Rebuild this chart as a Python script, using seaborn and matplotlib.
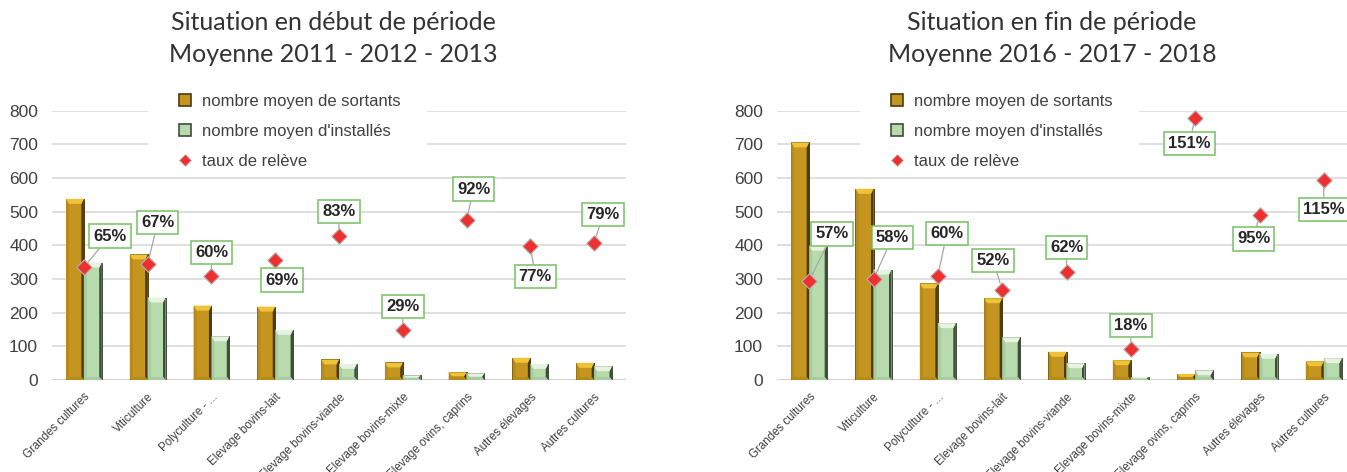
import numpy as np
import pandas as pd
import matplotlib
matplotlib.use("Agg")
import matplotlib.pyplot as plt
from matplotlib.lines import Line2D
from matplotlib.patches import Rectangle, Polygon
import seaborn as sns

# ---------------- data ----------------
categories = ["Grandes cultures", "Viticulture", "Polyculture - ...", "Elevage bovins-lait",
              "Elevage bovins-viande", "Elevage bovins-mixte", "Elevage ovins, caprins",
              "Autres élevages", "Autres cultures"]
series_names = ["nombre moyen de sortants", "nombre moyen d'installés", "taux de relève"]

titles = ["Situation en début de période\nMoyenne 2011 - 2012 - 2013",
          "Situation en fin de période\nMoyenne 2016 - 2017 - 2018"]

sortants_debut = [538, 373, 221, 218, 61, 52, 23, 66, 51]
installes_debut = [349, 245, 130, 149, 48, 14, 20, 48, 41]
taux_debut = [65, 67, 60, 69, 83, 29, 92, 77, 79]

sortants_fin = [706, 568, 287, 243, 84, 59, 18, 82, 56]
installes_fin = [399, 328, 169, 127, 50, 9, 29, 78, 65]
taux_fin = [57, 58, 60, 52, 62, 18, 151, 95, 115]

y_ticks = [0, 100, 200, 300, 400, 500, 600, 700, 800]

# label offsets (pixels) for the percentage call-outs
label_offsets_debut = [(26, 31), (10, 41), (0, 23), (7, -20), (0, 24), (0, 23), (7, 31), (5, -30), (9, 28)]
label_offsets_fin = [(23, 47), (19, 42), (9, 42), (-9, 29), (0, 25), (0, 23), (-6, -26), (-6, -24), (0, -29)]

# ---------------- style ----------------
W, H = 1347, 472
DPI = 100
GOLD = "#C4951F"
GOLD_LIGHT = "#F0C238"
GOLD_SIDE = "#B88A18"
GOLD_EDGE = "#4A3C10"
GREEN = "#B7DBAD"
GREEN_LIGHT = "#E6F3E1"
GREEN_SIDE = "#A8CB9F"
GREEN_EDGE = "#3F4C3A"
RED = "#EE3030"
GRID = "#DCDCDC"
TXT = "#404040"

sns.set_theme(style="white")
plt.rcParams["font.family"] = ["Liberation Sans", "DejaVu Sans"]

fig = plt.figure(figsize=(W / DPI, H / DPI), dpi=DPI)
fig.patch.set_facecolor("white")


def px(x, y):
    return x / W, 1 - y / H


panels = [
    dict(left=52, right=626, xmax=8.5, title_x=333, legend=(178, 94), white=(148, 427),
         s=sortants_debut, i=installes_debut, t=taux_debut, off=label_offsets_debut, title=titles[0]),
    dict(left=777, right=1347, xmax=8.36, title_x=1052, legend=(890, 94), white=(860, 1139),
         s=sortants_fin, i=installes_fin, t=taux_fin, off=label_offsets_fin, title=titles[1]),
]

top_px, bot_px = 110.7, 380
YMAX = 800


def bevel(ax, bar, light, side, dark, dx_px, dy_px):
    """Draw a bevelled (3D-like) look on top of a seaborn bar."""
    x = bar.get_x()
    w, h = bar.get_width(), bar.get_height()
    if h <= 0:
        return
    bl = 3.0 * dx_px
    br = 2.5 * dx_px
    by = min(5.0 * dy_px, h / 2)
    bb = min(3.0 * dy_px, h / 2)
    polys = [
        ([(x, 0), (x, h), (x + bl, h - by), (x + bl, bb)], side),
        ([(x + w, 0), (x + w, h), (x + w - br, h - by), (x + w - br, bb)], dark),
        ([(x, 0), (x + w, 0), (x + w - br, bb), (x + bl, bb)], side),
        ([(x, h), (x + w, h), (x + w - br, h - by), (x + bl, h - by)], light),
    ]
    for pts, col in polys:
        ax.add_patch(Polygon(pts, closed=True, facecolor=col, edgecolor="none", zorder=3.1))


for p in panels:
    x0, y0 = px(p["left"], bot_px)
    x1, y1 = px(p["right"], top_px)
    ax = fig.add_axes([x0, y0, x1 - x0, y1 - y0])

    df = pd.DataFrame({
        "cat": categories * 2,
        "val": p["s"] + p["i"],
        "serie": [series_names[0]] * len(categories) + [series_names[1]] * len(categories),
    })
    sns.barplot(data=df, x="cat", y="val", hue="serie", order=categories,
                hue_order=series_names[:2], palette=[GOLD, GREEN], width=0.56,
                gap=0, ax=ax, legend=False, zorder=3, saturation=1)

    ax.set_ylim(0, YMAX)
    ax.set_xlim(-0.5, p["xmax"])
    n = len(categories)
    dx_px = (p["xmax"] + 0.5) / (p["right"] - p["left"])
    dy_px = YMAX / (bot_px - top_px)
    bars = [b for b in ax.patches if isinstance(b, Rectangle)]
    for k, bar in enumerate(bars):
        if k < n:
            bar.set_edgecolor(GOLD_EDGE)
            bar.set_linewidth(0.7)
            bevel(ax, bar, GOLD_LIGHT, GOLD_SIDE, GOLD_EDGE, dx_px, dy_px)
        else:
            bar.set_edgecolor(GREEN_EDGE)
            bar.set_linewidth(0.7)
            bevel(ax, bar, GREEN_LIGHT, GREEN_SIDE, GREEN_EDGE, dx_px, dy_px)

    ax.set_yticks(y_ticks)
    ax.set_yticklabels([str(v) for v in y_ticks], fontsize=12.5, color=TXT)
    ax.tick_params(axis="y", length=0, pad=10)
    ax.tick_params(axis="x", length=0, pad=8)
    ax.set_xticks(range(n))
    ax.set_xticklabels(categories, rotation=45, ha="right", va="top",
                       rotation_mode="anchor", fontsize=8.3, color=TXT)
    ax.set_xlabel("")
    ax.set_ylabel("")
    for sp in ax.spines.values():
        sp.set_visible(False)
    ax.grid(axis="y", color=GRID, lw=1.3, zorder=0)
    ax.set_axisbelow(True)
    ax.axhline(0, color="#D0D0D0", lw=1.3, zorder=2)

    # white area behind legend (legend box hides upper gridlines)
    wx0, _ = px(p["white"][0], 0)
    wx1, _ = px(p["white"][1], 0)
    fig.patches.append(Rectangle((wx0, 1 - 172 / H), wx1 - wx0, (172 - 86) / H,
                                 transform=fig.transFigure, facecolor="white",
                                 edgecolor="none", zorder=1))

    # taux on secondary axis
    ax2 = ax.twinx()
    tdf = pd.DataFrame({"x": list(range(n)), "taux": [v / 100 for v in p["t"]]})
    sns.scatterplot(data=tdf, x="x", y="taux", marker="D", s=62, color=RED,
                    edgecolor="#B5B5B5", linewidth=0.8, ax=ax2, zorder=5, legend=False,
                    clip_on=False)
    ax2.set_xlim(-0.5, p["xmax"])
    ax2.set_ylim(0, 1.55)
    ax2.axis("off")
    for k, v in enumerate(p["t"]):
        dx, dy = p["off"][k]
        ax2.annotate(f"{v}%", xy=(k, v / 100), xytext=(dx, dy), textcoords="offset pixels",
                     ha="center", va="center", fontsize=12, fontweight="bold", color="#262626",
                     bbox=dict(boxstyle="square,pad=0.25", fc="white", ec="#80C56F", lw=1.2),
                     arrowprops=dict(arrowstyle="-", color="#A6A6A6", lw=0.9,
                                     shrinkA=0, shrinkB=5),
                     zorder=6, annotation_clip=False)

    # title
    tx, ty = px(p["title_x"], 11)
    fig.text(tx, ty, p["title"], ha="center", va="top", fontsize=18, fontweight="normal",
             color="#333333", family=["Lato", "DejaVu Sans"], linespacing=1.45)

    # legend
    handles = [
        Line2D([], [], linestyle="none", marker="s", markersize=8.5,
               markerfacecolor=GOLD, markeredgecolor=GOLD_EDGE, markeredgewidth=1.2),
        Line2D([], [], linestyle="none", marker="s", markersize=8.5,
               markerfacecolor=GREEN, markeredgecolor=GREEN_EDGE, markeredgewidth=1.2),
        Line2D([], [], linestyle="none", marker="D", markersize=6,
               markerfacecolor=RED, markeredgecolor="#C0C0C0", markeredgewidth=0.6),
    ]
    lx, ly = px(*p["legend"])
    fig.legend(handles, series_names, loc="upper left", bbox_to_anchor=(lx, ly),
               bbox_transform=fig.transFigure, frameon=False, fontsize=12,
               labelcolor=TXT, handlelength=0.8, handletextpad=0.62,
               labelspacing=0.9, borderpad=0, borderaxespad=0)

fig.savefig("out.png", dpi=DPI, facecolor="white")
